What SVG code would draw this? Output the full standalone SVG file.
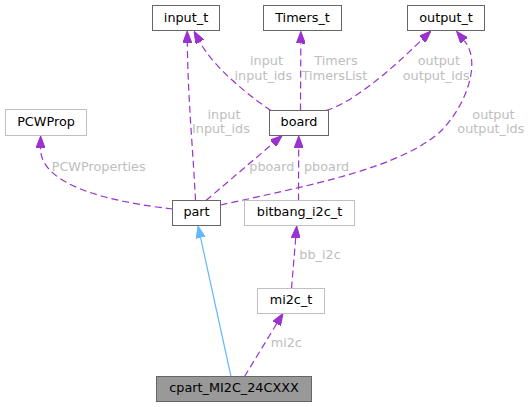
<svg xmlns="http://www.w3.org/2000/svg" width="531" height="407" viewBox="0 0 531 407">
<style>
  text { font-family: "DejaVu Sans", "Liberation Sans", sans-serif; font-size: 12.8px; }
  .node rect { fill: #ffffff; stroke: #666666; stroke-width: 1; }
  .node.light rect { stroke: #bfbfbf; }
  .node.main rect { fill: #999999; stroke: #666666; }
  .node text { fill: #000000; text-anchor: middle; }
  .edge { fill: none; stroke: #9a32cd; stroke-width: 1.2; stroke-dasharray: 7,4; }
  .inherit { fill: none; stroke: #63b8ff; stroke-width: 1.2; }
  .lbl { fill: #bebebe; }
</style>
<defs>
  <marker id="ah" markerUnits="userSpaceOnUse" viewBox="0 0 12 9" refX="0" refY="4.5" markerWidth="12" markerHeight="9" orient="auto">
    <path d="M0,0 L12,4.5 L0,9 z" fill="#9a32cd" stroke="#9a32cd" stroke-width="1"/>
  </marker>
  <marker id="ahb" markerUnits="userSpaceOnUse" viewBox="0 0 12 9" refX="0" refY="4.5" markerWidth="12" markerHeight="9" orient="auto">
    <path d="M0,0 L12,4.5 L0,9 z" fill="#63b8ff" stroke="#63b8ff" stroke-width="1"/>
  </marker>
</defs>
<rect width="531" height="407" fill="#ffffff"/>
<g id="connectors">
  <path class="edge" d="M195.5,200.5 C193,150 188,100 187.3,43" marker-end="url(#ah)"/>
  <path class="edge" d="M271,110.5 C255,100 215,70 199.8,41.9" marker-end="url(#ah)"/>
  <path class="edge" d="M300.5,110.5 L300.8,43.5" marker-end="url(#ah)"/>
  <path class="edge" d="M326,110.5 C360,100 405,56 422.3,39.3" marker-end="url(#ah)"/>
  <path class="edge" d="M220.5,205 C310.5,185 402,168 442,130 C466,105 482,62 464.2,40.6" marker-end="url(#ah)"/>
  <path class="edge" d="M206,200.5 L273,143.4" marker-end="url(#ah)"/>
  <path class="edge" d="M298.5,200.5 L298.7,148" marker-end="url(#ah)"/>
  <path class="edge" d="M172.5,209 C120,203 40,188 40.5,148" marker-end="url(#ah)"/>
  <path class="edge" d="M291.5,288.5 L295.7,238" marker-end="url(#ah)"/>
  <path class="edge" d="M244.5,376.5 L276.7,323.7" marker-end="url(#ah)"/>
  <path class="inherit" d="M231,376.5 L200.6,237.7" marker-end="url(#ahb)"/>
  <text class="lbl" x="250" y="65">input</text>
  <text class="lbl" x="234.5" y="79.5">input_ids</text>
  <text class="lbl" x="207.5" y="118.5">input</text>
  <text class="lbl" x="192" y="133">Input_ids</text>
  <text class="lbl" x="314.3" y="65">Timers</text>
  <text class="lbl" x="301.7" y="79.5">TimersList</text>
  <text class="lbl" x="417.7" y="65">output</text>
  <text class="lbl" x="402.7" y="79.5">output_ids</text>
  <text class="lbl" x="472.3" y="119">output</text>
  <text class="lbl" x="457.3" y="133">output_ids</text>
  <text class="lbl" x="51.7" y="171">PCWProperties</text>
  <text class="lbl" x="249.3" y="171">pboard</text>
  <text class="lbl" x="304" y="171">pboard</text>
  <text class="lbl" x="299.3" y="259.2">bb_i2c</text>
  <text class="lbl" x="270.7" y="346.8">mi2c</text>
</g>
<g id="input_t" class="node"><rect x="152.5" y="5.5" width="67" height="25"/><text x="186" y="21.5">input_t</text></g>
<g id="Timers_t" class="node"><rect x="263.5" y="5.5" width="78" height="25"/><text x="302.5" y="21.5">Timers_t</text></g>
<g id="output_t" class="node"><rect x="407.5" y="5.5" width="77" height="25"/><text x="446" y="21.5">output_t</text></g>
<g id="PCWProp" class="node light"><rect x="5.5" y="109.5" width="81" height="26"/><text x="46" y="126">PCWProp</text></g>
<g id="board" class="node"><rect x="269.5" y="110.5" width="59" height="25"/><text x="299" y="126.3">board</text></g>
<g id="part" class="node"><rect x="172.5" y="200.5" width="48" height="25"/><text x="196.5" y="216.3">part</text></g>
<g id="bitbang_i2c_t" class="node light"><rect x="244.5" y="200.5" width="110" height="25"/><text x="299.5" y="216.3">bitbang_i2c_t</text></g>
<g id="mi2c_t" class="node light"><rect x="257.5" y="288.5" width="67" height="25"/><text x="291" y="304.3">mi2c_t</text></g>
<g id="cpart_MI2C_24CXXX" class="node main"><rect x="156.5" y="376.5" width="155" height="25"/><text x="234" y="392">cpart_MI2C_24CXXX</text></g>
</svg>
